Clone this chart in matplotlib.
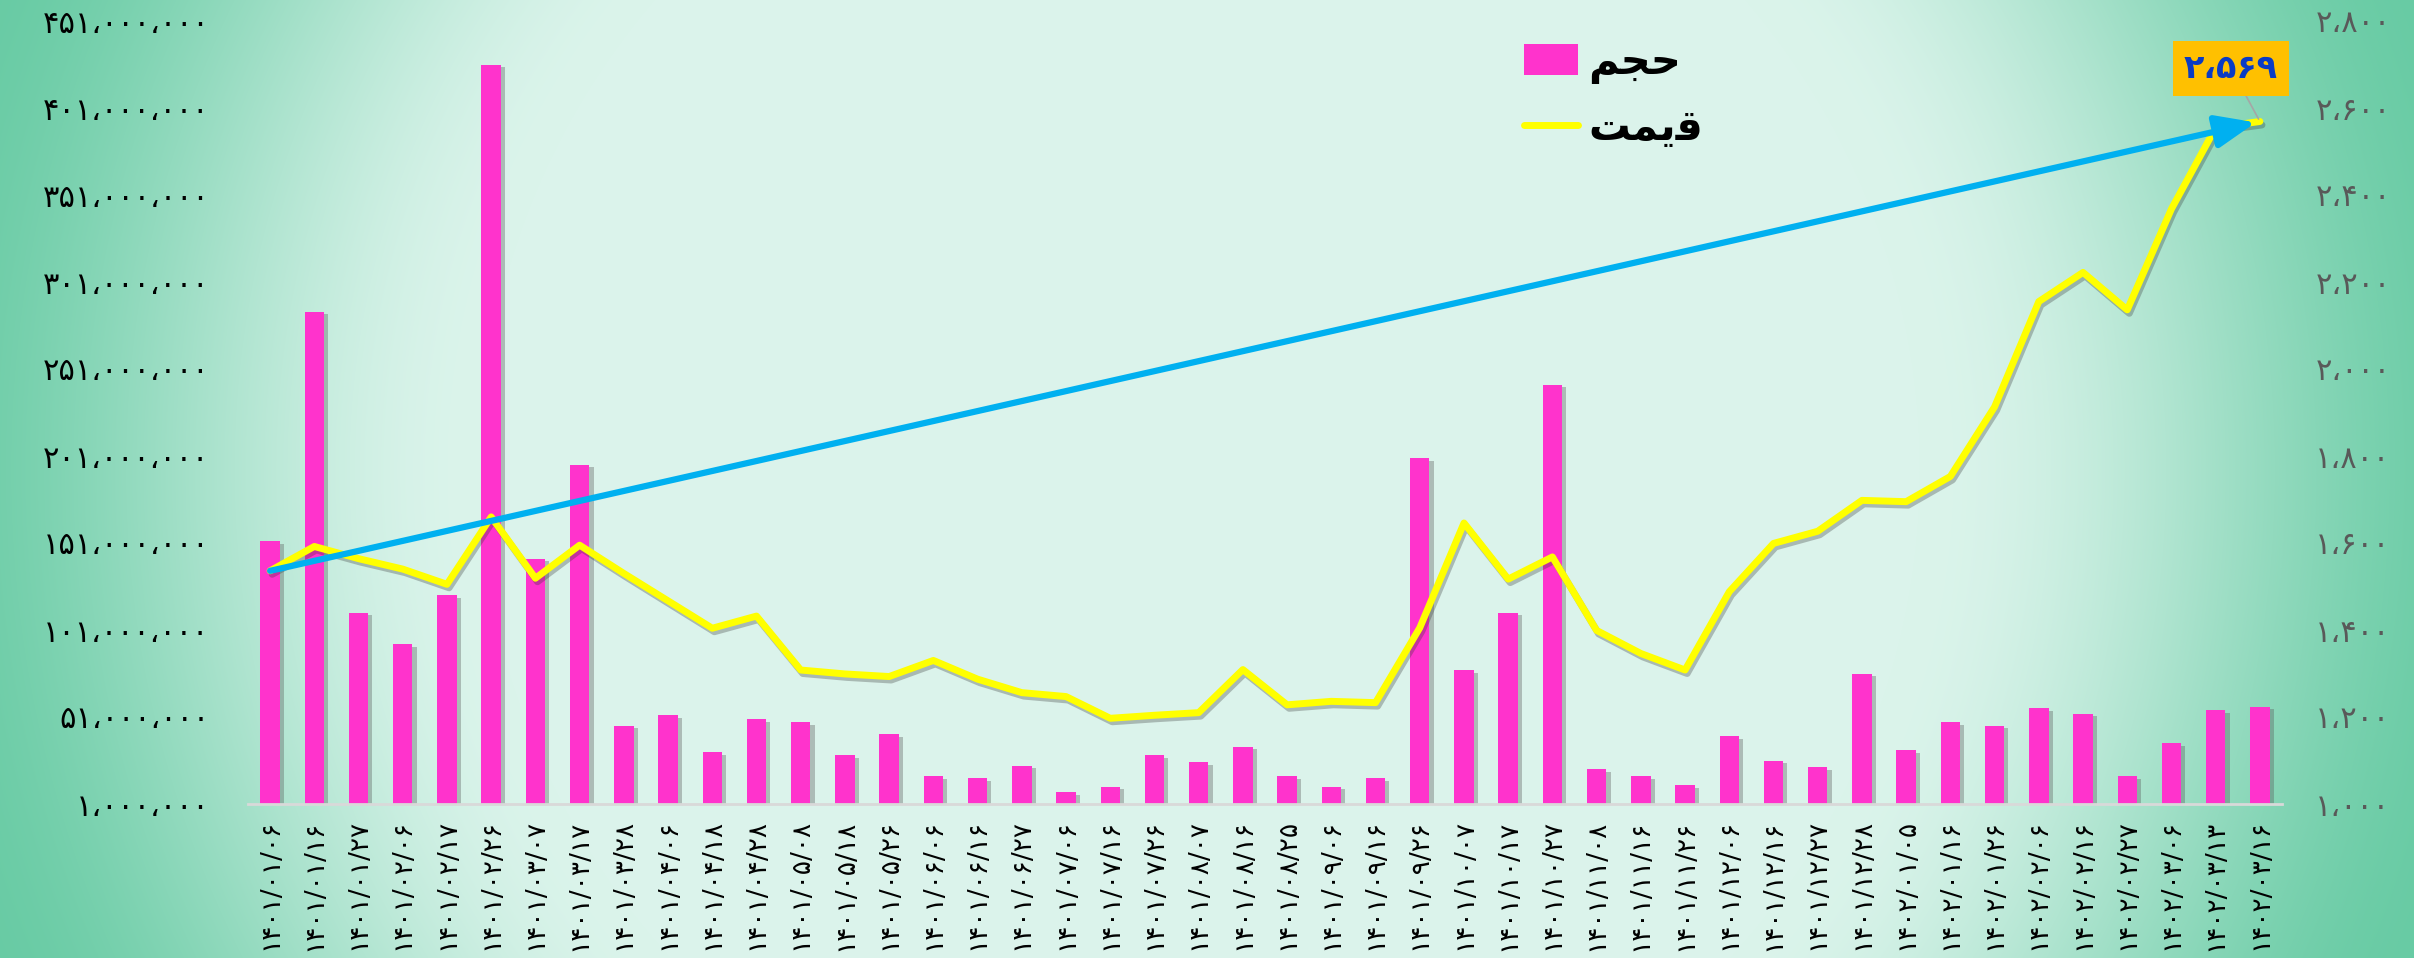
import numpy as np
import matplotlib
matplotlib.use("Agg")
import matplotlib.pyplot as plt
import matplotlib.patheffects as pe
from matplotlib.patches import Patch
from matplotlib.lines import Line2D

# ---------------- data ----------------
dates = ['۱۴۰۱/۰۱/۰۶', '۱۴۰۱/۰۱/۱۶', '۱۴۰۱/۰۱/۲۷', '۱۴۰۱/۰۲/۰۶', '۱۴۰۱/۰۲/۱۷',
         '۱۴۰۱/۰۲/۲۶', '۱۴۰۱/۰۳/۰۷', '۱۴۰۱/۰۳/۱۷', '۱۴۰۱/۰۳/۲۸', '۱۴۰۱/۰۴/۰۶',
         '۱۴۰۱/۰۴/۱۸', '۱۴۰۱/۰۴/۲۸', '۱۴۰۱/۰۵/۰۸', '۱۴۰۱/۰۵/۱۸', '۱۴۰۱/۰۵/۲۶',
         '۱۴۰۱/۰۶/۰۶', '۱۴۰۱/۰۶/۱۶', '۱۴۰۱/۰۶/۲۷', '۱۴۰۱/۰۷/۰۶', '۱۴۰۱/۰۷/۱۶',
         '۱۴۰۱/۰۷/۲۶', '۱۴۰۱/۰۸/۰۷', '۱۴۰۱/۰۸/۱۶', '۱۴۰۱/۰۸/۲۵', '۱۴۰۱/۰۹/۰۶',
         '۱۴۰۱/۰۹/۱۶', '۱۴۰۱/۰۹/۲۶', '۱۴۰۱/۱۰/۰۷', '۱۴۰۱/۱۰/۱۷', '۱۴۰۱/۱۰/۲۷',
         '۱۴۰۱/۱۱/۰۸', '۱۴۰۱/۱۱/۱۶', '۱۴۰۱/۱۱/۲۶', '۱۴۰۱/۱۲/۰۶', '۱۴۰۱/۱۲/۱۶',
         '۱۴۰۱/۱۲/۲۷', '۱۴۰۱/۱۲/۲۸', '۱۴۰۲/۰۱/۰۵', '۱۴۰۲/۰۱/۱۶', '۱۴۰۲/۰۱/۲۶',
         '۱۴۰۲/۰۲/۰۶', '۱۴۰۲/۰۲/۱۶', '۱۴۰۲/۰۲/۲۷', '۱۴۰۲/۰۳/۰۶', '۱۴۰۲/۰۳/۱۳',
         '۱۴۰۲/۰۳/۱۶']

volume_millions = [152, 284, 111, 93, 121, 426, 142, 196, 46, 52,
                   31, 50, 48, 29, 41, 17, 16, 23, 8, 11,
                   29, 25, 34, 17, 11, 16, 200, 78, 111, 242,
                   21, 17, 12, 40, 26, 22, 76, 32, 48, 46,
                   56, 53, 17, 36, 55, 57]

price = [1536, 1592, 1564, 1540, 1505, 1660, 1519, 1595, 1530, 1467,
         1404, 1432, 1308, 1299, 1293, 1330, 1287, 1256, 1247, 1197,
         1204, 1210, 1309, 1228, 1236, 1233, 1405, 1646, 1517, 1568,
         1399, 1346, 1308, 1488, 1599, 1627, 1698, 1695, 1753, 1913,
         2155, 2222, 2136, 2368, 2555, 2569]

left_ticks = [1_000_000 + 50_000_000 * k for k in range(10)]
right_ticks = [1000, 1200, 1400, 1600, 1800, 2000, 2200, 2400, 2600, 2800]

# legend labels (visual-order Arabic presentation forms of "حجم" and "قیمت")
label_volume = "\uFEE2\uFEA0\uFEA3"
label_price = "\uFE96\uFEE4\uFBFE\uFED7"

FA = str.maketrans("0123456789,", "۰۱۲۳۴۵۶۷۸۹،")


def fa(n):
    return f"{n:,}".translate(FA)


volume = [v * 1_000_000 for v in volume_millions]
x = np.arange(len(dates))

W, H = 2414, 958
fig = plt.figure(figsize=(W / 100, H / 100), dpi=100)
fig.patch.set_facecolor("white")

# background radial gradient
bg = fig.add_axes([0, 0, 1, 1], zorder=-10)
yy, xx = np.mgrid[0:H, 0:W]
d = np.hypot(xx - 1200, yy - 470)
t = np.clip((d - 720) / 600, 0, 1)
t = t * t * (3 - 2 * t)
c0 = np.array([219, 244, 235]) / 255
c1 = np.array([104, 203, 164]) / 255
img = c0[None, None, :] * (1 - t[..., None]) + c1[None, None, :] * t[..., None]
bg.imshow(img, aspect="auto", extent=[0, 1, 0, 1], origin="upper")
bg.axis("off")

left, right = 248 / W, 2282 / W
bottom, top = (H - 804) / H, (H - 21) / H
ax = fig.add_axes([left, bottom, right - left, top - bottom])
ax.patch.set_alpha(0)
ax2 = ax.twinx()
ax2.patch.set_alpha(0)

bars = ax.bar(x, volume, width=0.44, color="#FF33CC", zorder=2)
for b in bars:
    b.set_path_effects([pe.withSimplePatchShadow(offset=(3, -2), shadow_rgbFace="#555555", alpha=0.35)])

ax.set_xlim(-0.5, len(dates) - 0.5)
ax.set_ylim(left_ticks[0], left_ticks[-1])
ax.set_yticks(left_ticks)
ax.set_yticklabels([fa(v) for v in left_ticks], fontsize=22, color="black")
ax.set_xticks(x)
ax.set_xticklabels(dates, rotation=90, fontsize=19, color="black", va="top")
ax.tick_params(axis="x", length=0, pad=11)
ax.tick_params(axis="y", length=0, pad=28)

ax2.set_ylim(right_ticks[0], right_ticks[-1])
ax2.set_yticks(right_ticks)
ax2.set_yticklabels([fa(v) for v in right_ticks], fontsize=22, color="#595959")
ax2.tick_params(axis="y", length=0, pad=24)

for a in (ax, ax2):
    for s in ("top", "left", "right"):
        a.spines[s].set_visible(False)
ax.spines["bottom"].set_color("#D9D9D9")
ax.spines["bottom"].set_linewidth(2)
ax2.spines["bottom"].set_visible(False)

ax2.plot(x, price, color="#FFFF00", lw=5, solid_joinstyle="round", solid_capstyle="round", zorder=3,
         path_effects=[pe.SimpleLineShadow(offset=(1.5, -2.5), shadow_color="#333333", alpha=0.3), pe.Normal()])

# trend arrow from first to last price point
ax2.annotate("", xy=(x[-1], price[-1]), xytext=(x[0], price[0]),
             arrowprops=dict(arrowstyle="-|>,head_length=1.1,head_width=0.45", mutation_scale=22,
                             color="#00B0F0", lw=4.5, shrinkA=0, shrinkB=3), zorder=4)

# value callout
ax2.annotate(fa(price[-1]), xy=(x[-1], price[-1]), xycoords="data",
             xytext=(2231, H - 68), textcoords="figure pixels",
             ha="center", va="center", fontsize=24, fontweight="bold", color="#0A3BC4",
             bbox=dict(boxstyle="square,pad=0.33", fc="#FFC000", ec="none"),
             arrowprops=dict(arrowstyle="-", color="#A6A6A6", lw=1.2, shrinkA=0, shrinkB=2), zorder=5)

handles = [Patch(facecolor="#FF33CC", edgecolor="none"),
           Line2D([0], [0], color="#FFFF00", lw=5, solid_capstyle="round")]
leg = ax2.legend(handles, [label_volume, label_price], loc="upper left",
                 bbox_to_anchor=(1524 / W, 1 - 41 / H), bbox_transform=fig.transFigure,
                 frameon=False, prop=dict(size=30, weight="bold"), handlelength=1.3, handleheight=0.75,
                 handletextpad=0.25, labelspacing=0.55, borderpad=0, borderaxespad=0)

fig.savefig("out.png", dpi=100)
